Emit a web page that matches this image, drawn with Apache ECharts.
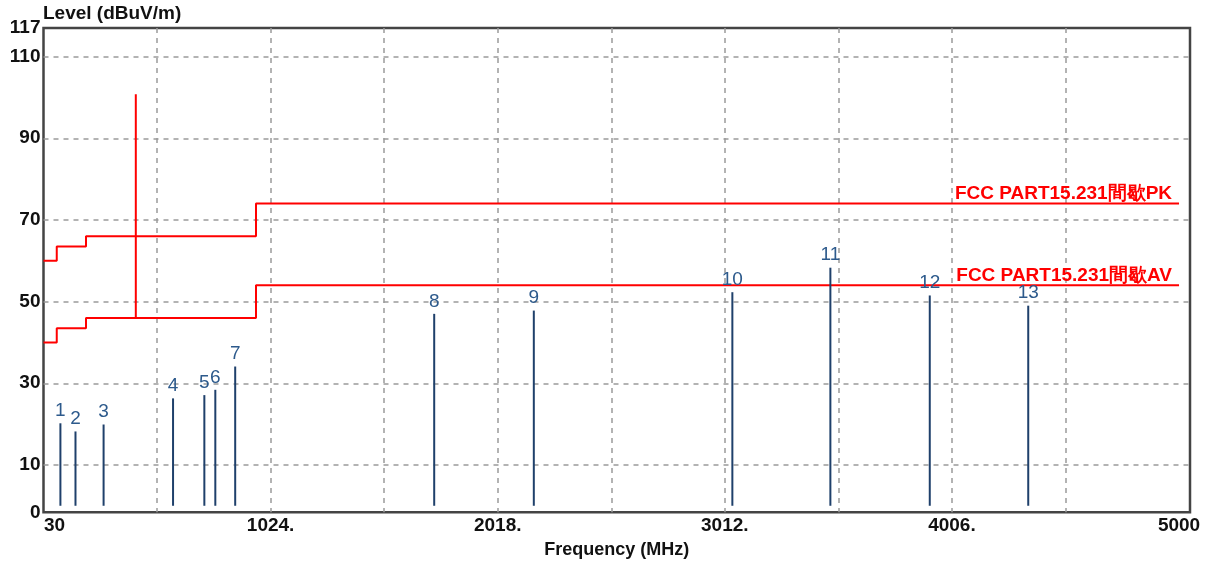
<!DOCTYPE html>
<html>
<head>
<meta charset="utf-8">
<script src="https://cdn.jsdelivr.net/npm/echarts@6/dist/echarts.min.js"></script>
<style>
	html, body { margin: 0; padding: 0; background: #fff; }
	#chart { width: 1208px; height: 562px; }
</style>
</head>
<body>
<div id="chart"></div>
<script>
// measured peaks
var markerNo = ['1', '2', '3', '4', '5', '6', '7', '8', '9', '10', '11', '12', '13'];
var markerFreq = [104, 170, 293, 597, 734, 782, 869, 1740, 2176, 3045, 3474, 3909, 4340];
var markerLevel = [20.2, 18.2, 19.9, 26.3, 27.1, 28.4, 34.1, 47.0, 47.8, 52.3, 58.3, 51.5, 49.0];

// limit lines
var pkFreq = [30, 88, 88, 216, 216, 960, 960, 5000];
var pkLevel = [60, 60, 63.5, 63.5, 66, 66, 74, 74];
var avFreq = [30, 88, 88, 216, 216, 434, 434, 434, 960, 960, 5000];
var avLevel = [40, 40, 43.5, 43.5, 46, 46, 100.8, 46, 46, 54, 54];
var pkName = 'FCC PART15.231間歇PK';
var avName = 'FCC PART15.231間歇AV';

// axis ticks
var xLabels = [30, 1024, 2018, 3012, 4006, 5000];
var xGrid = [527, 1024, 1521, 2018, 2515, 3012, 3509, 4006, 4503];
var yLabels = [-1.6, 10, 30, 50, 70, 90, 110, 117];
var yGrid = [10, 30, 50, 70, 90, 110];

function pairs(xs, ys) {
	var out = [];
	for (var i = 0; i < xs.length; i++) out.push([xs[i], ys[i]]);
	return out;
}

var font = '"Liberation Sans", Arial, sans-serif';
var myChart = echarts.init(document.getElementById('chart'));

var limitLabel = function (text, x, y) {
	return {
		symbol: 'circle',
		symbolSize: 0,
		data: [{
			coord: [x, y],
			label: {
				show: true,
				position: 'top',
				align: 'right',
				distance: 0,
				offset: [-7, 0],
				formatter: text,
				color: '#ff0000',
				fontFamily: font,
				fontWeight: 'bold',
				fontSize: 19
			}
		}]
	};
};

var option = {
	animation: false,
	title: {
		text: 'Level (dBuV/m)',
		left: 43,
		top: 4,
		padding: 0,
		textStyle: { fontFamily: font, fontWeight: 'bold', fontSize: 19, color: '#111' }
	},
	grid: {
		left: 43.5,
		right: 18,
		top: 28,
		bottom: 49.7,
		show: true,
		borderColor: '#444',
		borderWidth: 2.5,
		outerBoundsMode: 'none'
	},
	xAxis: {
		type: 'value',
		min: 30,
		max: 5048,
		name: 'Frequency (MHz)',
		nameLocation: 'middle',
		nameGap: 29,
		nameTextStyle: { fontFamily: font, fontWeight: 'bold', fontSize: 18, color: '#111' },
		axisLine: { show: false },
		axisTick: { show: false, customValues: xGrid },
		axisLabel: {
			customValues: xLabels,
			margin: 4,
			fontFamily: font,
			fontWeight: 'bold',
			fontSize: 19,
			color: '#111',
			formatter: function (v) {
				if (v === 30) return '{l|30}';
				if (v === 5000) return '5000';
				return v + '.';
			},
			rich: { l: { fontFamily: font, fontWeight: 'bold', fontSize: 19, color: '#111', padding: [0, 0, 0, 22] } }
		},
		splitLine: { show: true, lineStyle: { color: '#9a9a9a', width: 1.5, type: [5, 5] } }
	},
	yAxis: {
		type: 'value',
		min: -1.6,
		max: 117,
		axisLine: { show: false },
		axisTick: { show: false, customValues: yGrid },
		axisLabel: {
			customValues: yLabels,
			margin: 3,
			fontFamily: font,
			fontWeight: 'bold',
			fontSize: 19,
			color: '#111',
			formatter: function (v) { return v < 0 ? '0' : String(v); }
		},
		splitLine: { show: true, lineStyle: { color: '#9a9a9a', width: 1.5, type: [5, 5] } }
	},
	series: [
		{
			name: pkName,
			type: 'line',
			data: pairs(pkFreq, pkLevel),
			showSymbol: false,
			lineStyle: { color: '#ff0000', width: 2 },
			markPoint: limitLabel(pkName, 5000, 74),
			z: 3
		},
		{
			name: avName,
			type: 'line',
			data: pairs(avFreq, avLevel),
			showSymbol: false,
			lineStyle: { color: '#ff0000', width: 2 },
			markPoint: limitLabel(avName, 5000, 54),
			z: 3
		},
		{
			name: 'peaks',
			type: 'custom',
			data: pairs(markerFreq, markerLevel),
			renderItem: function (params, api) {
				var base = api.coord([api.value(0), 0]);
				var top = api.coord([api.value(0), api.value(1)]);
				return {
					type: 'group',
					children: [
						{
							type: 'line',
							shape: { x1: base[0], y1: base[1], x2: top[0], y2: top[1] },
							style: { stroke: '#1f406b', lineWidth: 2 }
						},
						{
							type: 'text',
							x: top[0],
							y: top[1] - 3,
							style: {
								text: markerNo[params.dataIndex],
								align: 'center',
								verticalAlign: 'bottom',
								fontFamily: font,
								fontSize: 19,
								fill: '#2d5a8c'
							}
						}
					]
				};
			},
			z: 4
		}
	]
};
myChart.setOption(option);
</script>
</body>
</html>
